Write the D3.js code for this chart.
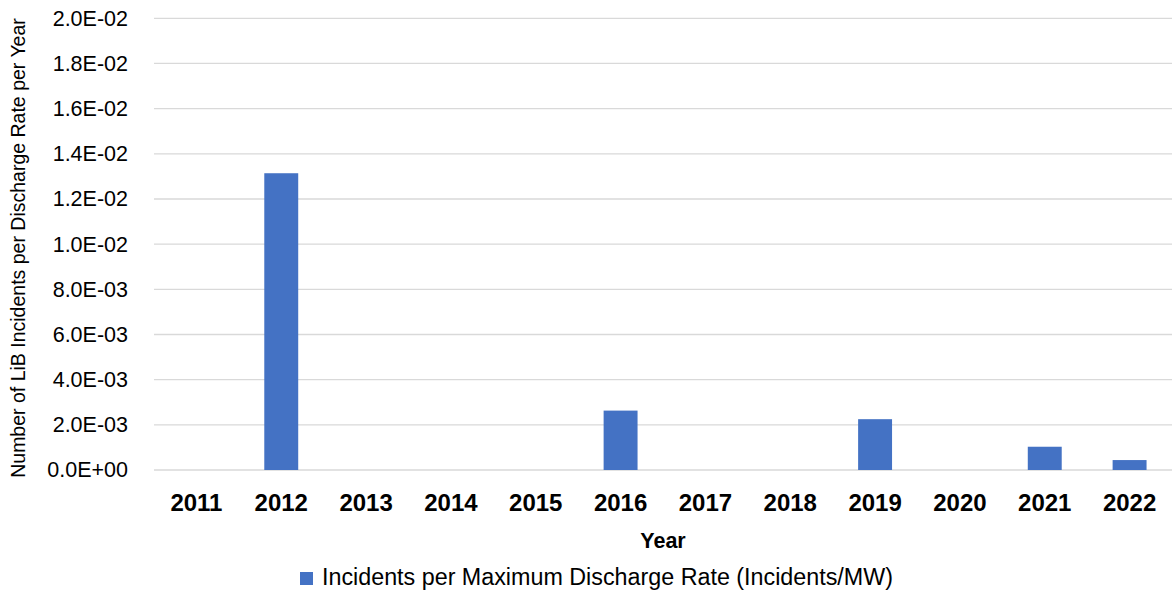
<!DOCTYPE html>
<html><head><meta charset="utf-8">
<script src="https://cdn.jsdelivr.net/npm/d3@7"></script>
<style>body{margin:0;background:#fff}svg{display:block}text{font-family:"Liberation Sans",Arial,sans-serif}</style>
</head><body><svg id="c" width="1172" height="592"></svg>
<script>
const years = ["2011","2012","2013","2014","2015","2016","2017","2018","2019","2020","2021","2022"];
const values = [0, 0.01314, 0, 0, 0, 0.00263, 0, 0, 0.00225, 0, 0.00103, 0.00044];
const yTicks = [0,0.002,0.004,0.006,0.008,0.010,0.012,0.014,0.016,0.018,0.020];
const seriesName = "Incidents per Maximum Discharge Rate (Incidents/MW)";
const xTitle = "Year";
const yTitle = "Number of LiB Incidents per Discharge Rate per Year";

const FONT = "'Liberation Sans',Arial,sans-serif";
const svg = d3.select("#c");
const m = {l:154, r:1172, t:18.3, b:470};
const x = d3.scaleBand().domain(years).range([m.l, m.r]).paddingInner(0.6).paddingOuter(0.3);
const y = d3.scaleLinear().domain([0,0.02]).range([m.b, m.t]);
const fmt = v => { if (v===0) return "0.0E+00"; const e=Math.floor(Math.log10(v)+1e-9); const mant=v/Math.pow(10,e); return mant.toFixed(1)+"E-"+String(-e).padStart(2,"0"); };

svg.append("g").selectAll("line").data(yTicks).join("line")
  .attr("x1", m.l).attr("x2", m.r).attr("y1", d=>y(d)).attr("y2", d=>y(d))
  .attr("stroke","#d9d9d9").attr("stroke-width",1.3);

const ya = svg.append("g").attr("transform",`translate(${m.l},0)`)
  .call(d3.axisLeft(y).tickValues(yTicks).tickFormat(fmt).tickSize(0).tickPadding(26));
ya.select(".domain").remove();
ya.selectAll("text").attr("font-size",21.5).attr("fill","#000").attr("font-family",FONT);

svg.append("g").selectAll("rect").data(years.map((d,i)=>({k:d,v:values[i]})).filter(d=>d.v>0)).join("rect")
  .attr("x", d=>x(d.k)).attr("width", x.bandwidth())
  .attr("y", d=>y(d.v)).attr("height", d=>y(0)-y(d.v)).attr("fill","#4472c4");

const xa = svg.append("g").attr("transform",`translate(0,${m.b})`)
  .call(d3.axisBottom(x).tickSize(0).tickPadding(24));
xa.select(".domain").remove();
xa.selectAll("text").attr("font-size",24).attr("font-weight","bold").attr("fill","#000").attr("font-family",FONT);

svg.append("text").attr("x",(m.l+m.r)/2).attr("y",548).attr("text-anchor","middle")
  .attr("font-size",21.5).attr("font-weight","bold").text(xTitle);

svg.append("text").attr("transform",`translate(25,${(18+478)/2}) rotate(-90)`).attr("text-anchor","middle")
  .attr("font-size",19.5).text(yTitle);

const lg = svg.append("g");
lg.append("rect").attr("x",300).attr("y",572).attr("width",13).attr("height",13).attr("fill","#4472c4");
lg.append("text").attr("x",322).attr("y",585).attr("font-size",23.3).text(seriesName);
</script></body></html>
